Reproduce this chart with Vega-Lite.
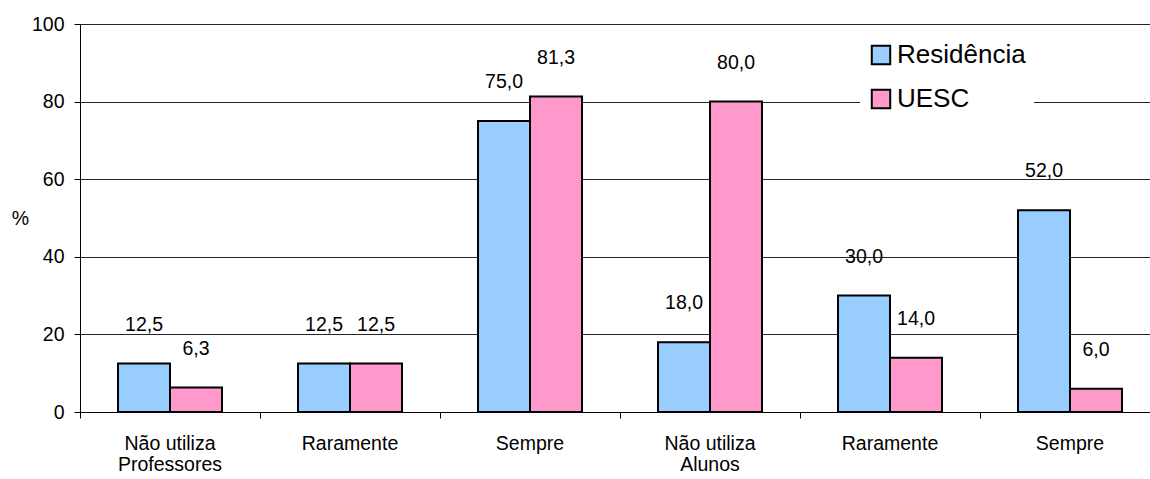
{
  "$schema": "https://vega.github.io/schema/vega-lite/v6.json",
  "autosize": {"type": "none"},
  "padding": {"left": 80, "top": 24, "right": -10, "bottom": 67},
  "width": 1080,
  "height": 388,
  "background": "white",
  "config": {
    "font": "Liberation Sans",
    "view": {"stroke": null},
    "locale": {"number": {"decimal": ",", "thousands": ".", "grouping": [3], "currency": ["R$", ""]}},
    "axis": {"labelFont": "Liberation Sans", "labelColor": "black", "titleColor": "black", "domainColor": "black", "tickColor": "black"}
  },
  "data": {
    "values": [
      {"categoria": "Professores · Não utiliza", "serie": "Residência", "valor": 12.5},
      {"categoria": "Professores · Não utiliza", "serie": "UESC", "valor": 6.3},
      {"categoria": "Professores · Raramente", "serie": "Residência", "valor": 12.5},
      {"categoria": "Professores · Raramente", "serie": "UESC", "valor": 12.5},
      {"categoria": "Professores · Sempre", "serie": "Residência", "valor": 75.0},
      {"categoria": "Professores · Sempre", "serie": "UESC", "valor": 81.3},
      {"categoria": "Alunos · Não utiliza", "serie": "Residência", "valor": 18.0},
      {"categoria": "Alunos · Não utiliza", "serie": "UESC", "valor": 80.0},
      {"categoria": "Alunos · Raramente", "serie": "Residência", "valor": 30.0},
      {"categoria": "Alunos · Raramente", "serie": "UESC", "valor": 14.0},
      {"categoria": "Alunos · Sempre", "serie": "Residência", "valor": 52.0},
      {"categoria": "Alunos · Sempre", "serie": "UESC", "valor": 6.0}
    ]
  },
  "resolve": {"axis": {"x": "independent"}},
  "encoding": {
    "xOffset": {"field": "serie", "type": "nominal", "scale": {"paddingInner": 0, "paddingOuter": 0.7308}},
    "y": {
      "field": "valor",
      "type": "quantitative",
      "stack": null,
      "scale": {"domain": [0, 100], "nice": false},
      "axis": {
        "values": [0, 20, 40, 60, 80, 100],
        "title": "%",
        "titleAngle": 0,
        "titleX": -60,
        "titleY": 194,
        "titleAlign": "center",
        "titleBaseline": "middle",
        "titleFontSize": 19.5,
        "titleFontWeight": "normal",
        "labelFontSize": 19.5,
        "labelPadding": 10,
        "tickSize": 6,
        "grid": true,
        "gridColor": "black",
        "gridOpacity": 0.85,
        "gridWidth": 1
      }
    }
  },
  "layer": [
    {
      "mark": {"type": "bar", "stroke": "black", "strokeWidth": 2},
      "encoding": {
        "x": {
          "field": "categoria",
          "type": "nominal",
          "sort": null,
          "scale": {"paddingInner": 0, "paddingOuter": 0},
          "axis": {
            "orient": "bottom",
            "title": null,
            "labelAngle": 0,
            "labelFontSize": 19.5,
            "labelPadding": 16,
            "labelBaseline": "top",
            "bandPosition": 0,
            "labelLimit": 0,
            "tickSize": 6,
            "domainWidth": 1,
            "labelExpr": "split(datum.label, ' · ')[1]"
          }
        },
        "color": {
          "field": "serie",
          "type": "nominal",
          "scale": {"domain": ["Residência", "UESC"], "range": ["#99CCFF", "#FF99CC"]},
          "legend": {
            "title": null,
            "orient": "none",
            "legendX": 780,
            "legendY": 10,
            "fillColor": "white",
            "padding": 8,
            "symbolType": "square",
            "symbolSize": 340,
            "symbolStrokeColor": "black",
            "symbolStrokeWidth": 2,
            "labelFontSize": 26,
            "labelColor": "black",
            "labelOffset": 3,
            "rowPadding": 16
          }
        }
      }
    },
    {
      "mark": {"type": "text", "baseline": "middle", "align": "center", "dy": -39, "fontSize": 19.5, "color": "black"},
      "encoding": {
        "x": {
          "field": "categoria",
          "type": "nominal",
          "sort": null,
          "axis": {
            "orient": "bottom",
            "title": null,
            "labelAngle": 0,
            "labelFontSize": 19.5,
            "labelPadding": 43,
            "labelBaseline": "top",
            "labelLimit": 0,
            "ticks": false,
            "domain": false,
            "labelExpr": "indexof(datum.label, 'Não utiliza') >= 0 ? split(datum.label, ' · ')[0] : ''"
          }
        },
        "text": {"field": "valor", "type": "quantitative", "format": ".1f"}
      }
    }
  ]
}
